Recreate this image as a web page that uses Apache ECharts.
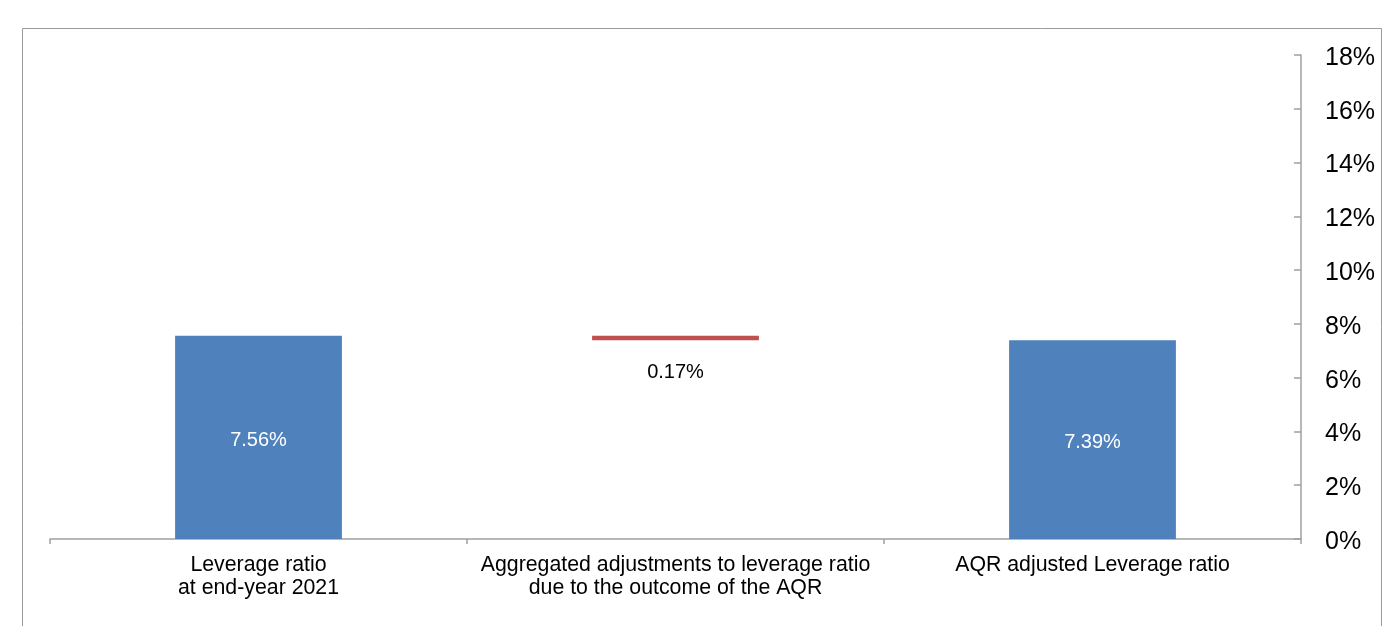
<!DOCTYPE html>
<html>
<head>
<meta charset="utf-8">
<script src="https://cdn.jsdelivr.net/npm/echarts@6/dist/echarts.min.js"></script>
<style>html,body{margin:0;padding:0;background:#fff;}#c{width:1388px;height:626px;}</style>
</head>
<body>
<div id="c"></div>
<script>
const categories = ['Leverage ratio\nat end-year 2021', 'Aggregated adjustments to leverage ratio\ndue to the outcome of the AQR', 'AQR adjusted Leverage ratio'];
const baseValues = [null, 7.39, null];      // invisible base of the waterfall step
const totalValues = [7.56, null, 7.39];     // blue bars
const adjustValues = [null, 0.17, null];    // red adjustment step
const yTicks = [0, 2, 4, 6, 8, 10, 12, 14, 16, 18];

const chart = echarts.init(document.getElementById('c'));
const font = 'Liberation Sans, Arial, sans-serif';
const axisColor = '#a0a0a0';
chart.setOption({
  animation: false,
  graphic: [{
    type: 'rect', shape: {x: 22.5, y: 28.5, width: 1359, height: 640},
    style: {fill: 'none', stroke: '#9a9a9a', lineWidth: 1}, silent: true
  }],
  grid: {left: 50, right: 87, top: 55, bottom: 87, containLabel: false},
  xAxis: {
    type: 'category', data: categories,
    axisLine: {lineStyle: {color: axisColor, width: 1.5}},
    axisTick: {show: true, length: 5, lineStyle: {color: axisColor, width: 1.5}},
    axisLabel: {color: '#000', fontFamily: font, fontSize: 21.3, lineHeight: 23, margin: 15, interval: 0}
  },
  yAxis: {
    type: 'value', position: 'right', min: yTicks[0], max: yTicks[yTicks.length - 1], interval: 2,
    splitLine: {show: false},
    axisLine: {show: true, lineStyle: {color: axisColor, width: 1.5}},
    axisTick: {show: true, inside: true, length: 7, lineStyle: {color: axisColor, width: 1.5}},
    axisLabel: {color: '#000', fontFamily: font, fontSize: 25, margin: 24,
      formatter: v => '{a|' + v + '%}',
      rich: {a: {fontFamily: font, fontSize: 25, color: '#000', padding: [6, 0, 0, 0]}}}
  },
  series: [
    {
      type: 'bar', stack: 'w', data: baseValues, barWidth: '40%',
      itemStyle: {color: 'transparent'}, silent: true
    },
    {
      type: 'bar', stack: 'w', data: adjustValues, barWidth: '40%',
      itemStyle: {color: '#C0504D'},
      label: {show: true, position: 'bottom', distance: 22, color: '#000', fontFamily: font, fontSize: 20,
        formatter: p => p.value.toFixed(2) + '%'}
    },
    {
      type: 'bar', stack: 'w', data: totalValues, barWidth: '40%',
      itemStyle: {color: '#4F81BD'},
      label: {show: true, position: 'inside', offset: [0, 3], color: '#fff', fontFamily: font, fontSize: 20,
        formatter: p => p.value.toFixed(2) + '%'}
    }
  ]
});
</script>
</body>
</html>
